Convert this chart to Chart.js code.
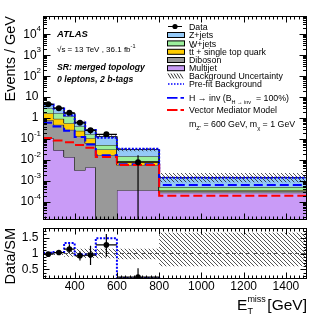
<!DOCTYPE html>
<html>
<head>
<meta charset="utf-8">
<script src="https://cdn.jsdelivr.net/npm/chart.js@4"></script>
<style>
html, body { margin: 0; padding: 0; background: #fff; }
#wrap { position: relative; width: 332px; height: 319px; }
canvas { position: absolute; left: 0; }
#main { top: 0; }
#ratio { top: 224px; }
</style>
</head>
<body>
<div id="wrap">
  <canvas id="main" width="332" height="224"></canvas>
  <canvas id="ratio" width="332" height="95"></canvas>
</div>
<script>
// bin edges in GeV
const edges = [250, 300, 350, 400, 450, 500, 600, 800, 1500];

// post-fit backgrounds, events / GeV
const multijet = [0.112, 0.030, 0.014, 0.0033, 0.0046, 0, 0.00037, 0.00028];
const diboson  = [0.69, 0.45, 0.263, 0.131, 0.059, 0.0173, 0.0054, 0.00006];
const ttbar    = [0.93, 0.45, 0.30, 0.114, 0.048, 0.015, 0.003, 0.00003];
const wjets    = [1.27, 0.80, 0.62, 0.155, 0.061, 0.020, 0.0066, 0.00015];
const zjets    = [1.64, 1.26, 0.53, 0.245, 0.104, 0.082, 0.0165, 0.00095];
const prefitBkg = [4.46, 2.86, 1.38, 0.62, 0.27, 0.115, 0.035, 0.00145];

// signals
const hinv = [0.6, 0.4, 0.25, 0.125, 0.055, 0.0173, 0.0064, 0.00065];
const vmm  = [0.112, 0.085, 0.072, 0.052, 0.039, 0.0139, 0.0058, 0.0002];

// data (no entry in the last bin)
const data = [4.55, 3.0, 1.8, 0.6, 0.263, 0.17, 0.008];
const dataErrUp   = [0.15, 0.12, 0.2, 0.09, 0.08, 0.045, 0.0093];
const dataErrDown = [0.15, 0.12, 0.2, 0.09, 0.08, 0.045, 0.008];

// ratio panel
const ratio = [0.98, 1.03, 1.14, 0.93, 0.95, 1.27, 0.26];
const ratioErrUp   = [0.04, 0.04, 0.15, 0.13, 0.29, 0.34, 0.28];
const ratioErrDown = [0.04, 0.04, 0.12, 0.15, 0.31, 0.37, 0.26];
const prefitRatio = [1.02, 1.05, 1.33, 0.97, 0.97, 1.48, 0.23, 0.2];
const uncHi = [1.04, 1.05, 1.1, 1.15, 1.15, 1.15, 1.15, 1.65];
const uncLo = [0.96, 0.95, 0.9, 0.86, 0.86, 0.85, 0.82, 0.6];

// tick labels
const xTickLabels = [400, 600, 800, 1000, 1200, 1400];
const yDecades = [-4, -3, -2, -1, 0, 1, 2, 3, 4];
const ratioTickLabels = [0.5, 1, 1.5];

const Y_MIN = 1.4e-5, Y_MAX = 7.4e4;

const FONT = "'Liberation Sans', Arial, Helvetica, sans-serif";
const f = (size, style) => (style ? style + ' ' : '') + size + 'px ' + FONT;
Chart.defaults.font.family = FONT;

const colors = ['#c99bf7', '#999999', '#ffcc00', '#9cef9c', '#94c9f7'];
const centers = data.map((_, i) => (edges[i] + edges[i + 1]) / 2);

// histogram outline: each bin gives a point on its low and high edge
const steps = vals => vals.flatMap((v, i) => [{ x: edges[i], y: v }, { x: edges[i + 1], y: v }]);
// log axis can't take 0, push empty bins far below the axis
const logSteps = vals => steps(vals.map(v => Math.max(v, Y_MIN * 1e-3)));

function hatch(step) {
    const c = document.createElement('canvas');
    c.width = c.height = step;
    const g = c.getContext('2d');
    g.strokeStyle = 'rgba(30,30,30,0.85)';
    g.lineWidth = 0.9;
    g.beginPath();
    g.moveTo(0, 0); g.lineTo(step, step);
    g.moveTo(-1, step - 1); g.lineTo(1, step + 1);
    g.moveTo(step - 1, -1); g.lineTo(step + 1, 1);
    g.stroke();
    return g.createPattern(c, 'repeat');
}
const hatchFill = hatch(4);

const xMinor = [];
for (let v = 260; v < 1500; v += 20) if (v % 200 !== 0) xMinor.push(v);

function drawAxes(chart, yMajor, yMinor, yMajLen, yMinLen) {
    const { ctx, chartArea: a, scales: { x, y } } = chart;
    const L = Math.round(a.left) + 0.5, R = Math.round(a.right) - 0.5;
    const T = Math.round(a.top) + 0.5, B = Math.round(a.bottom) - 0.5;
    ctx.save();
    ctx.strokeStyle = '#000';
    ctx.lineWidth = 1;
    ctx.beginPath();
    const xt = (v, len) => {
        const px = Math.round(x.getPixelForValue(v)) + 0.5;
        ctx.moveTo(px, B); ctx.lineTo(px, B - len);
        ctx.moveTo(px, T); ctx.lineTo(px, T + len);
    };
    const yt = (v, len) => {
        const py = Math.round(y.getPixelForValue(v)) + 0.5;
        ctx.moveTo(L, py); ctx.lineTo(L + len, py);
        ctx.moveTo(R, py); ctx.lineTo(R - len, py);
    };
    xTickLabels.forEach(v => xt(v, 6));
    xMinor.forEach(v => xt(v, 3));
    yMajor.forEach(v => yt(v, yMajLen));
    yMinor.forEach(v => yt(v, yMinLen));
    ctx.stroke();
    ctx.strokeRect(L, T, R - L, B - T);
    ctx.restore();
}

function errorBars(id, vals, up, down) {
    return {
        id: id,
        afterDatasetsDraw(chart) {
            const { ctx, chartArea: a, scales: { x, y } } = chart;
            ctx.save();
            ctx.beginPath();
            ctx.rect(a.left, a.top, a.right - a.left, a.bottom - a.top);
            ctx.clip();
            ctx.strokeStyle = '#000';
            ctx.lineWidth = 1.2;
            ctx.beginPath();
            vals.forEach((v, i) => {
                const px = x.getPixelForValue(centers[i]);
                const py = y.getPixelForValue(v);
                ctx.moveTo(x.getPixelForValue(edges[i]), py);
                ctx.lineTo(x.getPixelForValue(edges[i + 1]), py);
                ctx.moveTo(px, y.getPixelForValue(v + up[i]));
                ctx.lineTo(px, y.getPixelForValue(Math.max(v - down[i], 0)));
            });
            ctx.stroke();
            ctx.restore();
        }
    };
}

function textRun(ctx, parts, x, y) {
    // parts: [text, size, dy, style]
    parts.forEach(([t, size, dy, style]) => {
        ctx.font = f(size, style);
        ctx.fillText(t, x, y + (dy || 0));
        x += ctx.measureText(t).width;
    });
    return x;
}

function drawLegend(ctx) {
    const bx = 167, bw = 18, tx = 189, fs = 8.8;
    ctx.save();
    ctx.textAlign = 'left';
    ctx.textBaseline = 'alphabetic';
    ctx.fillStyle = '#000';
    ctx.strokeStyle = '#000';
    ctx.lineWidth = 1;
    ctx.font = f(fs);

    ctx.beginPath(); ctx.moveTo(168, 26.5); ctx.lineTo(182, 26.5); ctx.stroke();
    ctx.beginPath(); ctx.arc(175, 26.5, 2.6, 0, 2 * Math.PI); ctx.fill();
    ctx.fillText('Data', tx, 29.8);

    const rows = [[35, colors[4], 'Z+jets'], [43.4, colors[3], 'W+jets'], [51.8, colors[2], null],
                  [60, colors[1], 'Diboson'], [68.2, colors[0], 'Multijet']];
    rows.forEach(([yc, col, txt]) => {
        ctx.fillStyle = col;
        ctx.fillRect(bx, yc - 2.5, bw, 5);
        ctx.strokeRect(bx + 0.5, yc - 2.5, bw - 1, 5);
        ctx.fillStyle = '#000';
        ctx.font = f(fs);
        if (txt) ctx.fillText(txt, tx, yc + 3.2);
    });
    // t tbar + single top quark
    const wt = ctx.measureText('t').width;
    ctx.fillText('tt + single top quark', tx, 55);
    ctx.beginPath(); ctx.moveTo(tx + wt, 47.2); ctx.lineTo(tx + 2 * wt, 47.2); ctx.stroke();

    // background uncertainty
    ctx.beginPath();
    for (let k = 0; k < 5; k++) { ctx.moveTo(168 + k * 3, 73.5); ctx.lineTo(171 + k * 3, 78.5); }
    ctx.lineWidth = 0.8; ctx.stroke(); ctx.lineWidth = 1;
    ctx.fillText('Background Uncertainty', tx, 79.3);

    // pre-fit
    ctx.save();
    ctx.strokeStyle = '#0000ff'; ctx.lineWidth = 1.5; ctx.setLineDash([1.5, 1.5]);
    ctx.beginPath(); ctx.moveTo(168, 84); ctx.lineTo(184, 84); ctx.stroke();
    ctx.restore();
    ctx.fillText('Pre-fit Background', tx, 86.8);

    // signals
    [[97.8, '#0000ff'], [110, '#ff0000']].forEach(([yc, col]) => {
        ctx.save();
        ctx.strokeStyle = col; ctx.lineWidth = 1.8;
        ctx.beginPath(); ctx.moveTo(167, yc); ctx.lineTo(177.5, yc); ctx.moveTo(180.5, yc); ctx.lineTo(184, yc); ctx.stroke();
        ctx.restore();
    });
    textRun(ctx, [['H \u2192 inv (B', fs], ['H \u2192 inv', 5.5, 3], ['  = 100%)', fs]], tx, 101);
    ctx.fillText('Vector Mediator Model', tx, 113.3);
    textRun(ctx, [['m', fs], ["Z'", 5.8, 2.5], [' = 600 GeV, m', fs], ['\u03c7', 5.8, 2.5], [' = 1 GeV', fs]], tx, 127);
    ctx.restore();
}

const mainDecor = {
    id: 'mainDecor',
    afterDraw(chart) {
        const { ctx, scales: { y } } = chart;
        const yMajor = [], yMinor = [];
        for (let d = -5; d <= 4; d++) for (let k = 1; k <= 9; k++) {
            const v = k * Math.pow(10, d);
            if (v < y.min || v > y.max) continue;
            (k === 1 ? yMajor : yMinor).push(v);
        }
        drawAxes(chart, yMajor, yMinor, 7, 3.5);

        ctx.save();
        ctx.fillStyle = '#000';
        ctx.textBaseline = 'middle';
        yDecades.forEach(d => {
            const py = y.getPixelForValue(Math.pow(10, d));
            if (d === 0 || d === 1) {
                ctx.textAlign = 'right';
                ctx.font = f(12);
                ctx.fillText(d === 0 ? '1' : '10', 38.5, py);
                return;
            }
            const exp = String(d);
            ctx.textAlign = 'left';
            ctx.font = f(8);
            const we = ctx.measureText(exp).width;
            ctx.font = f(12);
            const wb = ctx.measureText('10').width;
            ctx.fillText('10', 41 - we - wb, py);
            ctx.font = f(8);
            ctx.fillText(exp, 41 - we, py - 5);
        });

        // y title
        ctx.save();
        ctx.translate(15, 16);
        ctx.rotate(-Math.PI / 2);
        ctx.textAlign = 'right';
        ctx.textBaseline = 'alphabetic';
        ctx.font = f(14.5);
        ctx.fillText('Events / GeV', 0, 0);
        ctx.restore();

        // labels
        ctx.textAlign = 'left';
        ctx.textBaseline = 'alphabetic';
        ctx.font = f(9.5, 'italic bold');
        ctx.fillText('ATLAS', 57, 37.3);
        textRun(ctx, [['\u221as = 13 TeV , 36.1 fb', 8], ['-1', 5.5, -4]], 57, 52);
        ctx.font = f(8.7, 'italic bold');
        ctx.fillText('SR: merged topology', 57, 69.5);
        ctx.fillText('0 leptons, 2 b-tags', 57, 81.5);
        ctx.restore();

        drawLegend(ctx);
    }
};

const ratioDecor = {
    id: 'ratioDecor',
    afterDraw(chart) {
        const { ctx, scales: { x, y } } = chart;
        const yMinor = [];
        for (let k = 3; k <= 17; k++) if (k % 5 !== 0) yMinor.push(k / 10);
        drawAxes(chart, ratioTickLabels, yMinor, 6, 3);

        ctx.save();
        ctx.fillStyle = '#000';
        ctx.font = f(12);
        ctx.textAlign = 'right';
        ctx.textBaseline = 'middle';
        ratioTickLabels.forEach(v => ctx.fillText(String(v), 38.5, y.getPixelForValue(v)));
        ctx.textAlign = 'center';
        xTickLabels.forEach(v => ctx.fillText(String(v), x.getPixelForValue(v), 63));

        // x title, right aligned at the frame edge
        ctx.textBaseline = 'alphabetic';
        ctx.textAlign = 'left';
        ctx.font = f(15.5);
        const wG = ctx.measureText('[GeV]').width;
        const wE = ctx.measureText('E').width;
        ctx.font = f(9);
        const wM = ctx.measureText('miss').width;
        const xG = 307 - wG;
        const xM = xG - 1.5 - wM;
        const xE = xM - wE;
        ctx.font = f(15.5);
        ctx.fillText('E', xE, 86);
        ctx.fillText('[GeV]', xG, 86);
        ctx.font = f(9);
        ctx.fillText('miss', xM, 77.5);
        ctx.fillText('T', xM, 89.5);

        ctx.save();
        ctx.translate(15, 4);
        ctx.rotate(-Math.PI / 2);
        ctx.textAlign = 'right';
        ctx.font = f(14.5);
        ctx.fillText('Data/SM', 0, 0);
        ctx.restore();
        ctx.restore();
    }
};

// ---- main panel ----
const line = { pointRadius: 0, tension: 0 };
const mainSets = [];
const names = ['Multijet', 'Diboson', 'ttbar', 'W+jets', 'Z+jets'];
let total = multijet.map(() => 0);
[multijet, diboson, ttbar, wjets, zjets].forEach((vals, i) => {
    total = total.map((c, j) => c + vals[j]);
    mainSets.push({ ...line, label: names[i], data: logSteps(total), backgroundColor: colors[i],
                    borderColor: '#222', borderWidth: 1, fill: i === 0 ? 'start' : i - 1 });
});
mainSets.push({ ...line, label: 'unc lo', data: logSteps(total.map((t, i) => t * uncLo[i])), borderWidth: 0, fill: false });
mainSets.push({ ...line, label: 'Background Uncertainty', data: logSteps(total.map((t, i) => t * uncHi[i])),
                borderWidth: 0, backgroundColor: hatchFill, fill: 5 });
mainSets.push({ ...line, label: 'Pre-fit Background', data: logSteps(prefitBkg), borderColor: '#0000ff',
                borderWidth: 2, borderDash: [2, 1.5], fill: false });
mainSets.push({ ...line, label: 'H -> inv', data: logSteps(hinv), borderColor: '#0000ff',
                borderWidth: 2, borderDash: [9, 4], fill: false });
mainSets.push({ ...line, label: 'Vector Mediator Model', data: logSteps(vmm), borderColor: '#ff0000',
                borderWidth: 2, borderDash: [9, 4], fill: false });
mainSets.push({ label: 'Data', data: centers.map((c, i) => ({ x: c, y: data[i] })), showLine: false,
                pointRadius: 3, pointBackgroundColor: '#000', pointBorderWidth: 0, fill: false });
mainSets.forEach((d, i) => { d.order = -i; });

new Chart(document.getElementById('main'), {
    type: 'line',
    data: { datasets: mainSets },
    options: {
        responsive: false,
        animation: false,
        devicePixelRatio: 1,
        events: [],
        layout: { padding: { left: 43, right: 25, top: 16, bottom: 4 } },
        scales: {
            x: { type: 'linear', min: 250, max: 1500, display: false },
            y: { type: 'logarithmic', min: Y_MIN, max: Y_MAX, display: false }
        },
        plugins: { legend: { display: false }, tooltip: { enabled: false } }
    },
    plugins: [errorBars('mainErr', data, dataErrUp, dataErrDown), mainDecor]
});

// ---- ratio panel ----
const ratioSets = [
    { ...line, label: 'unc lo', data: steps(uncLo), borderWidth: 0, fill: false },
    { ...line, label: 'unc hi', data: steps(uncHi), borderWidth: 0, backgroundColor: hatchFill, fill: 0 },
    { ...line, label: 'one', data: [{ x: 250, y: 1 }, { x: 1500, y: 1 }],
      borderColor: '#555', borderWidth: 1, borderDash: [4, 3], fill: false },
    { ...line, label: 'Data / pre-fit', data: steps(prefitRatio), borderColor: '#0000ff',
      borderWidth: 2, borderDash: [2, 1.5], fill: false },
    { label: 'Data/SM', data: centers.map((c, i) => ({ x: c, y: ratio[i] })), showLine: false,
      pointRadius: 2.8, pointBackgroundColor: '#000', pointBorderWidth: 0, fill: false }
];
ratioSets.forEach((d, i) => { d.order = -i; });

new Chart(document.getElementById('ratio'), {
    type: 'line',
    data: { datasets: ratioSets },
    options: {
        responsive: false,
        animation: false,
        devicePixelRatio: 1,
        events: [],
        layout: { padding: { left: 43, right: 25, top: 4, bottom: 40 } },
        scales: {
            x: { type: 'linear', min: 250, max: 1500, display: false },
            y: { type: 'linear', min: 0.2, max: 1.8, display: false }
        },
        plugins: { legend: { display: false }, tooltip: { enabled: false } }
    },
    plugins: [errorBars('ratioErr', ratio, ratioErrUp, ratioErrDown), ratioDecor]
});
</script>
</body>
</html>
